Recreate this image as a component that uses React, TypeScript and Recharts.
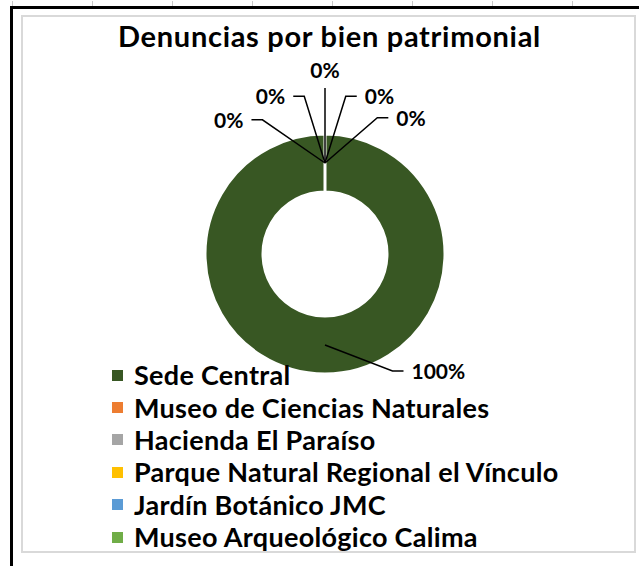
import React from "react";
import { PieChart, Pie, Cell, Legend } from "recharts";

const SITES = [
  "Sede Central",
  "Museo de Ciencias Naturales",
  "Hacienda El Paraíso",
  "Parque Natural Regional el Vínculo",
  "Jardín Botánico JMC",
  "Museo Arqueológico Calima",
];
const SHARE = [100, 0, 0, 0, 0, 0];
const COLORS = ["#385723", "#ed7d31", "#a5a5a5", "#ffc000", "#5b9bd5", "#70ad47"];

// leader line elbows: angle offset from the slice middle (deg) and radius
const FAN = [
  { a: 30, r: 135 },
  { a: 25, r: 148 },
  { a: 7.5, r: 159 },
  { a: 0, r: 166 },
  { a: -7.5, r: 159 },
  { a: -21, r: 146 },
];

const FONT = "Lato, 'Open Sans', sans-serif";
const RAD = Math.PI / 180;

const polar = (cx: number, cy: number, r: number, deg: number) => [
  cx + r * Math.cos(-deg * RAD),
  cy + r * Math.sin(-deg * RAD),
];

const renderLabel = (props: any) => {
  const { cx, cy, midAngle, innerRadius, outerRadius, index, percent } = props;
  const fan = FAN[index];
  const [x0, y0] = polar(cx, cy, (innerRadius + outerRadius) / 2, midAngle);
  const [x1, y1] = polar(cx, cy, fan.r, midAngle + fan.a);
  const side = Math.abs(x1 - cx) < 1 ? 0 : Math.sign(x1 - cx);
  const x2 = x1 + side * 11;
  const text = `${Math.round(percent * 100)}%`;
  return (
    <g key={`lbl-${index}`}>
      <polyline
        points={`${x0},${y0} ${x1},${y1} ${x2},${y1}`}
        fill="none"
        stroke="#000"
        strokeWidth={1.5}
      />
      <text
        x={side === 0 ? x1 : x2 + side * 8}
        y={side === 0 ? y1 - 10 : y1 + 8}
        textAnchor={side === 0 ? "middle" : side > 0 ? "start" : "end"}
        fill="#000"
        fontSize={21}
        fontWeight={700}
        fontFamily={FONT}
      >
        {text}
      </text>
    </g>
  );
};

const LegendList = ({ payload }: any) => {
  const items = [...(payload || [])].sort(
    (a: any, b: any) => SITES.indexOf(a.value) - SITES.indexOf(b.value)
  );
  return (
    <ul style={{ listStyle: "none", margin: 0, padding: 0 }}>
      {items.map((p: any, i: number) => (
        <li key={i} style={{ display: "flex", alignItems: "center", height: 32.4 }}>
          <span
            style={{
              width: 11,
              height: 11,
              background: p.payload?.fill ?? p.color,
              marginRight: 11,
              flex: "none",
            }}
          />
          <span
            style={{
              fontFamily: FONT,
              fontWeight: 700,
              fontSize: 27,
              letterSpacing: 0.3,
              lineHeight: "32px",
              color: "#000",
              whiteSpace: "nowrap",
            }}
          >
            {p.value}
          </span>
        </li>
      ))}
    </ul>
  );
};

export default function App() {
  const data = SITES.map((name, i) => ({ name, value: SHARE[i], fill: COLORS[i] }));
  return (
    <div
      style={{
        position: "absolute",
        left: 0,
        top: 0,
        width: 639,
        height: 566,
        background: "#fff",
        fontFamily: FONT,
        overflow: "hidden",
      }}
    >
      {[0, 1, 2, 3, 4, 5, 6, 7].map((k) => (
        <div
          key={k}
          style={{ position: "absolute", left: 12 + k * 80, top: 1, width: 1, height: 5, background: "#c8c8c8" }}
        />
      ))}
      <div style={{ position: "absolute", left: 10, right: 0, top: 6, height: 3, background: "#000" }} />
      <div style={{ position: "absolute", left: 10, width: 3, top: 6, bottom: 0, background: "#000" }} />
      <div
        style={{
          position: "absolute",
          left: 21,
          top: 15,
          width: 611,
          height: 534,
          border: "2px solid #d9d9d9",
        }}
      />
      <div
        style={{
          position: "absolute",
          left: 0,
          width: 659,
          top: 19,
          textAlign: "center",
          fontSize: 29,
          letterSpacing: 0.7,
          fontWeight: 700,
          color: "#000",
          lineHeight: "34px",
          whiteSpace: "nowrap",
        }}
      >
        Denuncias por bien patrimonial
      </div>
      <div style={{ position: "absolute", left: 0, top: 0 }}>
        <PieChart width={639} height={566} margin={{ top: 0, right: 0, bottom: 0, left: 0 }}>
          <Pie
            data={data}
            dataKey="value"
            nameKey="name"
            cx={325}
            cy={254}
            innerRadius={62}
            outerRadius={120}
            startAngle={90}
            endAngle={-270}
            stroke="#fff"
            strokeWidth={3}
            label={renderLabel}
            labelLine={false}
            isAnimationActive={false}
          >
            {data.map((d, i) => (
              <Cell key={i} fill={COLORS[i]} />
            ))}
          </Pie>
          <Legend
            content={<LegendList />}
            itemSorter={null as any}
            wrapperStyle={{ position: "absolute", left: 112, top: 359, width: 520 }}
          />
        </PieChart>
      </div>
    </div>
  );
}
